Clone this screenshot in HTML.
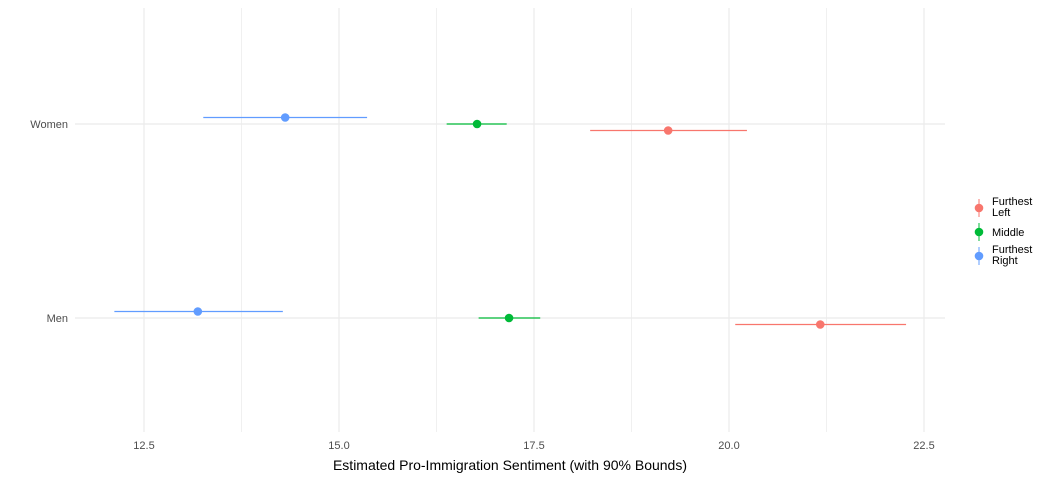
<!DOCTYPE html>
<html><head><meta charset="utf-8"><style>
body{margin:0;background:#fff;font-family:"Liberation Sans",sans-serif}
</style></head><body>
<svg id="chart" width="1056" height="480" xmlns="http://www.w3.org/2000/svg" font-family="Liberation Sans, sans-serif"></svg>
<script>
const categories=["Women","Men"];
const groups=["Furthest Left","Middle","Furthest Right"];
const colors=["#F8766D","#00BA38","#619CFF"];
const estWomen=[19.22,16.77,14.31];
const lowWomen=[18.22,16.38,13.26];
const highWomen=[20.23,17.15,15.36];
const estMen=[21.17,17.18,13.19];
const lowMen=[20.08,16.79,12.12];
const highMen=[22.27,17.58,14.28];
const xTicks=[12.5,15.0,17.5,20.0,22.5];
const svg=document.getElementById('chart');
const NS='http://www.w3.org/2000/svg';
const x=v=>144+(v-12.5)*78;
const yCat={"Women":124,"Men":318};
const dodge=[6.5,0,-6.5];
function mk(t,a,p){const e=document.createElementNS(NS,t);for(const k in a)e.setAttribute(k,a[k]);(p||svg).appendChild(e);return e;}
// minor grid
for(let i=0;i<xTicks.length-1;i++){const m=(xTicks[i]+xTicks[i+1])/2;
const g=mk('line',{x1:x(m),x2:x(m),y1:8,y2:432,stroke:'#f0f0f0','stroke-width':1});

}
xTicks.forEach(t=>{const g=mk('line',{x1:x(t),x2:x(t),y1:8,y2:432,stroke:'#ebebeb','stroke-width':1.2});


const l=mk('text',{x:x(t),y:449,'text-anchor':'middle','font-size':11,fill:'#4d4d4d'});l.textContent=t.toFixed(1);

});
categories.forEach(c=>{const y=yCat[c];
const g=mk('line',{x1:75,x2:945,y1:y,y2:y,stroke:'#ebebeb','stroke-width':1.2});


const l=mk('text',{x:68,y:y+4,'text-anchor':'end','font-size':11,fill:'#4d4d4d'});l.textContent=c;

});
const data={"Women":[estWomen,lowWomen,highWomen],"Men":[estMen,lowMen,highMen]};
categories.forEach(c=>{const [e,lo,hi]=data[c];
groups.forEach((g,i)=>{const y=yCat[c]+dodge[i];
const ln=mk('line',{x1:x(lo[i]),x2:x(hi[i]),y1:y,y2:y,stroke:colors[i],'stroke-width':1.3});


const p=mk('circle',{cx:x(e[i]),cy:y,r:4.3,fill:colors[i]});

});});
const title=mk('text',{x:510,y:470,'text-anchor':'middle','font-size':14,fill:'#000'});
title.textContent='Estimated Pro-Immigration Sentiment (with 90% Bounds)';


const legY=[208,232,256];
const labels=[["Furthest","Left"],["Middle"],["Furthest","Right"]];
groups.forEach((g,i)=>{const y=legY[i];
const ln=mk('line',{x1:979,x2:979,y1:y-9,y2:y+9,stroke:colors[i],'stroke-width':1});


const c=mk('circle',{cx:979,cy:y,r:4.3,fill:colors[i]});


const t=mk('text',{x:992,'font-size':11,fill:'#000'});


const l=labels[i];
if(l.length===1){t.setAttribute('y',y+4);t.textContent=l[0];}
else{t.setAttribute('y',y-3);l.forEach((s,k)=>{const ts=mk('tspan',{x:992,dy:k?11:0},t);ts.textContent=s;});}});
</script>
</body></html>
